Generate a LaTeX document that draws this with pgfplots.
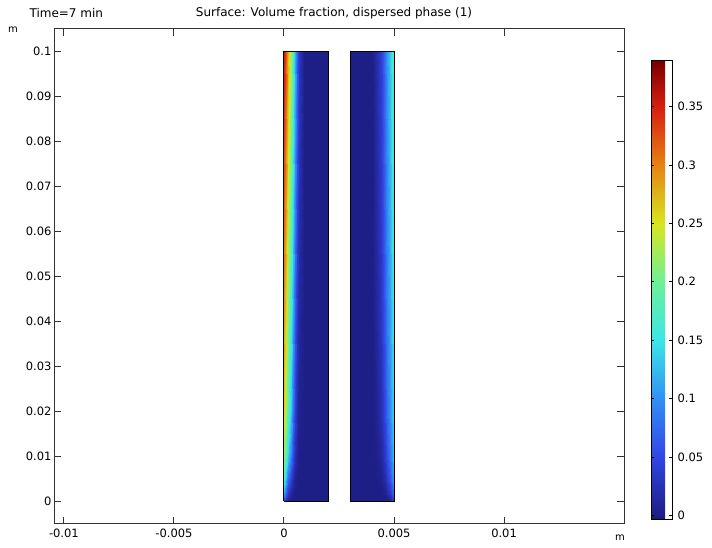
\documentclass[border=0pt]{standalone}
\usepackage{fontspec}
\setmainfont{DejaVu Sans}
\usepackage{pgfplots}
\usepackage{pgfplotstable}
\pgfplotsset{compat=1.18}

% volume fraction near the walls (x, y, value)
\pgfplotstableread{
x y c
0 0 0.04
0.0001 0 0.015
0.0002 0 0.003
0.0003 0 0
0.0004 0 0
0.0005 0 0
0.0006 0 0
0.0007 0 0
0.0009 0 0
0.002 0 0
0 0.002 0.11
0.0001 0.002 0.065
0.0002 0.002 0.03
0.0003 0.002 0.01
0.0004 0.002 0.002
0.0005 0.002 0
0.0006 0.002 0
0.0007 0.002 0
0.0009 0.002 0
0.002 0.002 0
0 0.005 0.17
0.0001 0.005 0.12
0.0002 0.005 0.075
0.0003 0.005 0.04
0.0004 0.005 0.017
0.0005 0.005 0.005
0.0006 0.005 0
0.0007 0.005 0
0.0009 0.005 0
0.002 0.005 0
0 0.01 0.22
0.0001 0.01 0.18
0.0002 0.01 0.135
0.0003 0.01 0.09
0.0004 0.01 0.05
0.0005 0.01 0.022
0.0006 0.01 0.007
0.0007 0.01 0
0.0009 0.01 0
0.002 0.01 0
0 0.02 0.26
0.0001 0.02 0.225
0.0002 0.02 0.18
0.0003 0.02 0.13
0.0004 0.02 0.08
0.0005 0.02 0.042
0.0006 0.02 0.016
0.0007 0.02 0.004
0.0009 0.02 0
0.002 0.02 0
0 0.04 0.285
0.0001 0.04 0.255
0.0002 0.04 0.21
0.0003 0.04 0.16
0.0004 0.04 0.11
0.0005 0.04 0.065
0.0006 0.04 0.03
0.0007 0.04 0.01
0.0009 0.04 0
0.002 0.04 0
0 0.06 0.31
0.0001 0.06 0.28
0.0002 0.06 0.235
0.0003 0.06 0.185
0.0004 0.06 0.135
0.0005 0.06 0.085
0.0006 0.06 0.045
0.0007 0.06 0.018
0.0009 0.06 0
0.002 0.06 0
0 0.08 0.33
0.0001 0.08 0.30
0.0002 0.08 0.255
0.0003 0.08 0.205
0.0004 0.08 0.155
0.0005 0.08 0.105
0.0006 0.08 0.06
0.0007 0.08 0.025
0.0009 0.08 0
0.002 0.08 0
0 0.1 0.355
0.0001 0.1 0.325
0.0002 0.1 0.275
0.0003 0.1 0.225
0.0004 0.1 0.17
0.0005 0.1 0.12
0.0006 0.1 0.07
0.0007 0.1 0.03
0.0009 0.1 0
0.002 0.1 0
}\leftchannel

\pgfplotstableread{
x y c
0.003 0 0
0.0040 0 0
0.0042 0 0
0.0044 0 0
0.0045 0 0
0.0046 0 0
0.0047 0 0
0.0048 0 0.008
0.0049 0 0.025
0.005 0 0.05
0.003 0.002 0
0.0040 0.002 0
0.0042 0.002 0
0.0044 0.002 0
0.0045 0.002 0.002
0.0046 0.002 0.006
0.0047 0.002 0.015
0.0048 0.002 0.032
0.0049 0.002 0.055
0.005 0.002 0.085
0.003 0.005 0
0.0040 0.005 0
0.0042 0.005 0
0.0044 0.005 0.004
0.0045 0.005 0.01
0.0046 0.005 0.02
0.0047 0.005 0.035
0.0048 0.005 0.058
0.0049 0.005 0.085
0.005 0.005 0.11
0.003 0.01 0
0.0040 0.01 0
0.0042 0.01 0.002
0.0044 0.01 0.012
0.0045 0.01 0.022
0.0046 0.01 0.036
0.0047 0.01 0.055
0.0048 0.01 0.08
0.0049 0.01 0.105
0.005 0.01 0.13
0.003 0.02 0
0.0040 0.02 0
0.0042 0.02 0.006
0.0044 0.02 0.022
0.0045 0.02 0.036
0.0046 0.02 0.053
0.0047 0.02 0.074
0.0048 0.02 0.098
0.0049 0.02 0.122
0.005 0.02 0.145
0.003 0.04 0
0.0040 0.04 0
0.0042 0.04 0.01
0.0044 0.04 0.03
0.0045 0.04 0.046
0.0046 0.04 0.065
0.0047 0.04 0.087
0.0048 0.04 0.11
0.0049 0.04 0.135
0.005 0.04 0.16
0.003 0.06 0
0.0040 0.06 0
0.0042 0.06 0.012
0.0044 0.06 0.034
0.0045 0.06 0.051
0.0046 0.06 0.071
0.0047 0.06 0.094
0.0048 0.06 0.118
0.0049 0.06 0.143
0.005 0.06 0.168
0.003 0.08 0
0.0040 0.08 0
0.0042 0.08 0.014
0.0044 0.08 0.037
0.0045 0.08 0.055
0.0046 0.08 0.076
0.0047 0.08 0.099
0.0048 0.08 0.124
0.0049 0.08 0.15
0.005 0.08 0.175
0.003 0.1 0
0.0040 0.1 0
0.0042 0.1 0.016
0.0044 0.1 0.04
0.0045 0.1 0.058
0.0046 0.1 0.08
0.0047 0.1 0.104
0.0048 0.1 0.13
0.0049 0.1 0.156
0.005 0.1 0.182
}\rightchannel

\begin{document}
\begin{tikzpicture}[x=1pt,y=1pt]
\useasboundingbox (0,0) rectangle (712,548);
\begin{axis}[
    at={(54pt,24pt)}, anchor=south west,
    scale only axis,
    width=570pt, height=495pt,
    xmin=-0.01045, xmax=0.01545,
    ymin=-0.005, ymax=0.105,
    xtick={-0.01,-0.005,0,0.005,0.01},
    xticklabels={-0.01,-0.005,0,0.005,0.01},
    ytick={0,0.01,0.02,0.03,0.04,0.05,0.06,0.07,0.08,0.09,0.1},
    yticklabels={0,0.01,0.02,0.03,0.04,0.05,0.06,0.07,0.08,0.09,0.1},
    scaled ticks=false,
    tick pos=both, tick align=inside,
    major tick length=7pt,
    tick label style={font=\fontsize{11.5}{13}\selectfont},
    xticklabel style={yshift=-1pt},
    yticklabel style={xshift=1pt},
    axis line style={black!80, line width=1pt},
    tick style={black!80, line width=1pt},
    colormap={comsol}{rgb255(0pt)=(25,25,115); rgb255(4pt)=(30,30,135);
        rgb255(54pt)=(50,70,230); rgb255(104pt)=(50,145,245);
        rgb255(154pt)=(60,230,230); rgb255(204pt)=(110,240,150);
        rgb255(254pt)=(215,230,30); rgb255(304pt)=(230,130,20);
        rgb255(354pt)=(215,30,15); rgb255(393pt)=(120,0,0)},
    point meta=explicit,
    point meta min=-0.004, point meta max=0.389,
    colorbar,
    colorbar style={
        at={(1.0474,0.0081)}, anchor=south west,
        scale only axis, width=21pt, height=459pt,
        ytick={0,0.05,0.1,0.15,0.2,0.25,0.3,0.35},
        yticklabels={0,0.05,0.1,0.15,0.2,0.25,0.3,0.35},
        ytick pos=both, yticklabel pos=right, tick align=inside,
        major tick length=3pt,
        tick label style={font=\fontsize{11.5}{13}\selectfont},
        yticklabel style={xshift=2pt},
        axis line style={black, line width=1pt},
        tick style={black, line width=0.8pt},
    },
]
\addplot[surf, shader=interp, mesh/ordering=x varies, mesh/cols=10] table[x=x, y=y, meta=c] {\leftchannel};
\addplot[surf, shader=interp, mesh/ordering=x varies, mesh/cols=10] table[x=x, y=y, meta=c] {\rightchannel};
\addplot[black, line width=1pt] coordinates {(0,0) (0.002,0) (0.002,0.1) (0,0.1) (0,0)};
\addplot[black, line width=1pt] coordinates {(0.003,0) (0.005,0) (0.005,0.1) (0.003,0.1) (0.003,0)};
\end{axis}
\node[anchor=west, font=\fontsize{12}{14}\selectfont] at (26,535) {Time=7 min};
\node[font=\fontsize{12}{14}\selectfont] at (334,535) {Surface: Volume fraction, dispersed phase (1)};
\node[font=\fontsize{10}{12}\selectfont] at (13,518) {m};
\node[font=\fontsize{10}{12}\selectfont] at (620,10) {m};
\end{tikzpicture}
\end{document}
